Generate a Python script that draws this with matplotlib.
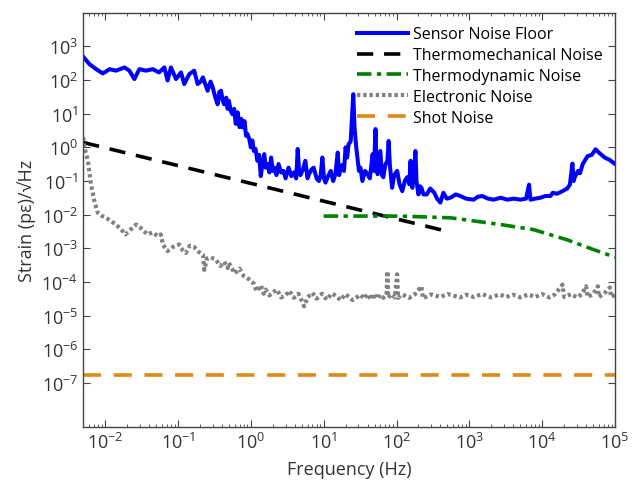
import matplotlib
matplotlib.use("Agg")
import matplotlib.pyplot as plt

# ─── DATA ─────────────────────────────────────────────────────────────────────
sensor_f = [0.005, 0.0061, 0.0078, 0.0093, 0.0115, 0.0141, 0.0184, 0.0215, 0.0252,
            0.0295, 0.0365, 0.045, 0.055, 0.065, 0.072, 0.08, 0.094, 0.11, 0.122,
            0.143, 0.167, 0.186, 0.205, 0.22, 0.24, 0.255, 0.28, 0.3, 0.32, 0.33, 0.35,
            0.37, 0.39, 0.41, 0.43, 0.46, 0.48, 0.5, 0.53, 0.56, 0.59, 0.62, 0.66, 0.7,
            0.74, 0.77, 0.82, 0.86, 0.9, 0.95, 1.0, 1.05, 1.1, 1.16, 1.23, 1.3, 1.37, 1.45,
            1.53, 1.6, 1.7, 1.8, 1.9, 2.0, 2.1, 2.25, 2.4, 2.6, 2.8, 3.0, 3.3,
            3.6, 3.9, 4.2, 4.4, 4.6, 4.8, 5.2, 5.6, 6.0, 6.3, 6.8, 7.3, 8.0, 8.6,
            9.1, 9.6, 10.1, 10.6, 11.5, 12.5, 13.5, 14.5, 15.6, 16.3, 17, 18, 19,
            20, 21, 22, 23.5, 25.5, 26.5, 28, 30.5, 32, 34, 37, 40, 43, 47, 49,
            51.5, 53, 55, 57, 60, 63, 66, 70, 75, 78, 81, 87, 93, 102, 110, 120,
            130, 140, 150, 156, 160, 165, 172, 182, 188, 200, 210, 220, 235, 260,
            290, 330, 360, 400, 440, 490, 550, 650, 750, 900, 1150, 1300, 1500,
            1800, 2150, 2700, 3300, 4100, 5000, 6000, 6600, 6900, 8000, 9500,
            1.1e4, 1.3e4, 1.4e4, 1.6e4, 1.9e4, 2.2e4, 2.4e4, 2.6e4, 2.7e4, 2.8e4,
            3.1e4, 3.3e4, 3.6e4, 4.2e4, 4.8e4, 5.4e4, 6e4, 7.2e4, 8.5e4, 1e5]
sensor_v = [490, 295, 200, 157, 210, 190, 237, 190, 107,
            210, 190, 210, 168, 237, 97, 237, 107, 168, 76,
            150, 190, 76, 90, 120, 70, 48, 90, 60, 35, 28, 19,
            45, 48, 25, 19, 30, 14, 24, 12, 9.6, 14, 5, 11, 4,
            7, 3.9, 6, 2.2, 2.5, 1.8, 1.0, 1.6, 0.78, 0.9, 0.4, 0.6, 0.14, 0.35,
            0.63, 0.25, 0.32, 0.18, 0.5, 0.2, 0.25, 0.15, 0.32, 0.18, 0.2, 0.12, 0.25,
            0.14, 0.18, 0.12, 0.9, 0.2, 0.15, 0.22, 0.4, 0.12, 0.16, 0.22, 0.25, 0.12, 0.1,
            0.15, 0.5, 0.12, 0.09, 0.14, 0.2, 0.1, 0.16, 0.7, 0.15, 0.22, 0.3, 0.2,
            1.0, 0.5, 1.25, 1.5, 38, 4, 1.0, 0.2, 0.25, 0.1, 0.2, 0.16, 0.12, 0.63, 0.2,
            3.5, 0.4, 0.16, 0.3, 0.78, 0.15, 0.13, 0.3, 0.4, 1.55, 0.3, 0.063, 0.15, 0.2, 0.08, 0.05,
            0.1, 0.13, 0.08, 0.4, 0.1, 0.063, 0.15, 0.78, 0.1, 0.04, 0.07, 0.063, 0.04, 0.04,
            0.06, 0.045, 0.03, 0.023, 0.045, 0.03, 0.032, 0.04, 0.036, 0.03, 0.028, 0.034, 0.036,
            0.03, 0.028, 0.032, 0.028, 0.03, 0.028, 0.03, 0.078, 0.028, 0.03, 0.032,
            0.036, 0.036, 0.045, 0.042, 0.05, 0.06, 0.078, 0.33, 0.1, 0.13,
            0.2, 0.17, 0.32, 0.55, 0.6, 0.88, 0.7, 0.5, 0.42, 0.32]

thermomech_f = [0.005, 500]
thermomech_v = [1.4, 0.0032]

thermodyn_f = [10, 113, 550, 2700, 7600, 2.2e4, 5e4, 1e5]
thermodyn_v = [0.0091, 0.0091, 0.0081, 0.0051, 0.0036, 0.0018, 0.00093, 0.00055]

electronic_f = [0.005, 0.0052, 0.0058, 0.0064, 0.0071, 0.0079, 0.0092, 0.0103, 0.012,
                0.014, 0.016, 0.019, 0.022, 0.0266, 0.031, 0.038, 0.045, 0.053, 0.058,
                0.062, 0.072, 0.085, 0.104, 0.115, 0.128, 0.145, 0.167, 0.19, 0.22,
                0.23, 0.25, 0.28, 0.33, 0.38, 0.43, 0.48, 0.5, 0.6, 0.7, 0.8, 0.95,
                1.1, 1.2, 1.37, 1.5, 1.6, 1.8, 2.0, 2.3, 2.6, 3.0, 3.4, 3.9, 4.5, 5.0,
                5.4, 6.0, 7.0, 8.0, 9.5, 11, 13, 15, 17, 20, 25, 32, 36, 40, 45, 49,
                55, 60, 66, 73, 75, 77, 85, 95, 102, 105, 120, 150, 180, 220, 230,
                300, 400, 500, 750, 900, 1150, 1500, 2000, 2600, 3200, 4000, 5000,
                6500, 8000, 1e4, 1.25e4, 1.5e4, 1.9e4, 2.0e4, 2.5e4, 3.0e4, 3.5e4,
                4e4, 4.2e4, 5e4, 5.8e4, 6e4, 7e4, 8.5e4, 8.8e4, 1e5]
electronic_v = [2.0, 1.0, 0.4, 0.08, 0.026, 0.0115, 0.009, 0.0081, 0.0065,
                0.0051, 0.004, 0.0026, 0.0035, 0.0051, 0.004, 0.0026, 0.003, 0.0023, 0.0026,
                0.0013, 0.00083, 0.0011, 0.0013, 0.0009, 0.00073, 0.0012, 0.0011, 0.0008, 0.00065,
                0.00023, 0.0005, 0.00054, 0.00047, 0.0003, 0.0004, 0.00026, 0.00037, 0.00018,
                0.00025, 0.00015, 0.00012,
                9e-5, 5.3e-5, 8e-5, 4.5e-5, 6e-5, 4e-5, 5e-5, 5.9e-5, 3.5e-5, 4e-5, 5.5e-5,
                3.4e-5, 4.5e-5, 2.8e-5,
                1.9e-5, 3.5e-5, 4.8e-5, 3.2e-5, 4.5e-5, 3e-5, 4.6e-5, 3.8e-5, 2.9e-5, 4.4e-5,
                2.9e-5, 4.2e-5, 3.2e-5, 4.4e-5, 3e-5, 4.5e-5,
                3.2e-5, 4.2e-5, 3.4e-5, 4.3e-5, 2.1e-4, 3.4e-5, 4.4e-5, 3.5e-5, 1.7e-4, 3.4e-5,
                4.3e-5, 3.4e-5, 4.4e-5, 7.5e-5, 3.3e-5,
                4.3e-5, 3.6e-5, 4.4e-5, 3.5e-5, 4.2e-5, 3.6e-5, 4.4e-5, 3.5e-5, 4.3e-5, 3.6e-5,
                4.2e-5, 3.5e-5,
                4.3e-5, 3.6e-5, 4.4e-5, 3.5e-5, 4.3e-5, 8.4e-5, 3.6e-5, 4.4e-5, 3.5e-5, 4.3e-5,
                7.5e-5, 3.6e-5, 4.4e-5, 7.5e-5, 3.6e-5, 4.4e-5, 6.9e-5, 3.6e-5, 4.2e-5]

shot_f = [0.005, 1e5]
shot_v = [1.7e-7, 1.7e-7]

labels = ["Sensor Noise Floor", "Thermomechanical Noise", "Thermodynamic Noise",
          "Electronic Noise", "Shot Noise"]
# ──────────────────────────────────────────────────────────────────────────────

plt.rcParams["font.family"] = ["Open Sans", "DejaVu Sans"]
plt.rcParams["mathtext.fontset"] = "custom"
plt.rcParams["mathtext.rm"] = "Open Sans"
plt.rcParams["mathtext.it"] = "Open Sans:italic"

GRAY = "#444444"

fig = plt.figure(figsize=(6.4, 4.89), dpi=100)
ax = fig.add_axes([0.13, 0.125, 0.831, 0.847])

ax.plot(sensor_f, sensor_v, color="#0000FF", lw=2.9, label=labels[0])
ax.plot(thermomech_f, thermomech_v, color="black", lw=2.6, dashes=(4.5, 3), label=labels[1])
ax.plot(thermodyn_f, thermodyn_v, color="#008000", lw=2.6, dashes=(4, 1.5, 1.2, 1.5), label=labels[2])
ax.plot(electronic_f, electronic_v, color="#808080", lw=3.0, dashes=(0.8, 0.7), label=labels[3])
ax.plot(shot_f, shot_v, color="#DE8A1A", lw=2.6, dashes=(5, 3.5), label=labels[4])

ax.set_xscale("log")
ax.set_yscale("log")
ax.set_xlim(0.005, 1e5)
ax.set_ylim(5e-9, 1e4)
ax.set_xticks([10.0 ** k for k in range(-2, 6)])
ax.set_yticks([10.0 ** k for k in range(-7, 4)])

ax.tick_params(which="both", direction="in", top=True, right=True, colors=GRAY,
               labelcolor="#333333", labelsize=13)
ax.tick_params(which="major", length=5)
ax.tick_params(which="minor", length=2.5)
for s in ax.spines.values():
    s.set_color(GRAY)
    s.set_linewidth(1.0)

ax.set_xlabel("Frequency (Hz)", fontsize=13, color="#333333", labelpad=6)
ax.set_ylabel("Strain (pε)/√Hz", fontsize=13, color="#333333", labelpad=4)

ax.legend(loc="upper right", bbox_to_anchor=(0.995, 0.99), frameon=False, fontsize=11.5,
          handlelength=3.2, handletextpad=0.3, labelspacing=0.3, borderaxespad=0.2)

fig.savefig("out.png", dpi=100)
